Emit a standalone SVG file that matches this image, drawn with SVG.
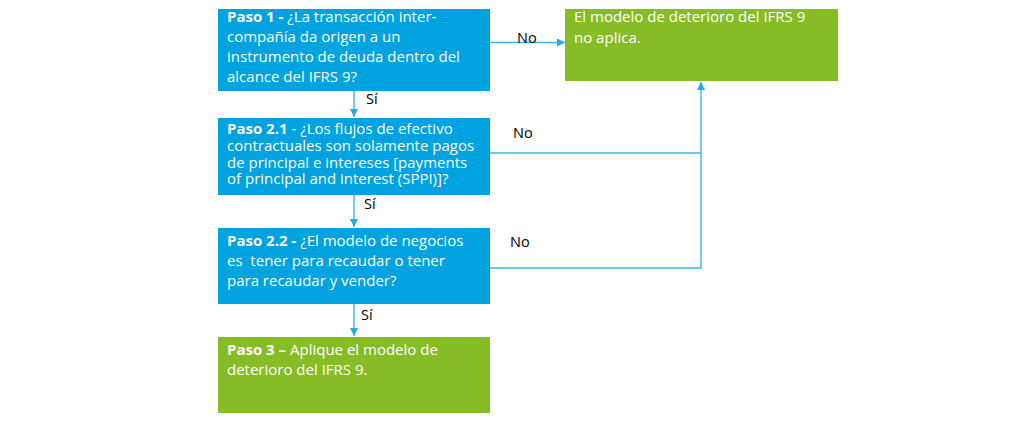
<svg xmlns="http://www.w3.org/2000/svg" width="1024" height="428" viewBox="0 0 1024 428">
<defs>
<style>
.blue{fill:#00A3E0}
.green{fill:#86BC25}
.t{font-family:"Open Sans","Liberation Sans",sans-serif;font-size:15px;fill:#ffffff}
.b{font-weight:bold}
.lbl{font-family:"Open Sans","Liberation Sans",sans-serif;font-size:14.5px;fill:#000000}
.c{stroke:#3DB5E6;stroke-width:1.4;fill:none}
</style>
<marker id="ah" viewBox="0 0 10 10" refX="10" refY="5" markerWidth="11" markerHeight="8" markerUnits="userSpaceOnUse" orient="auto">
<path d="M0,0 L10,5 L0,10 z" fill="#29A9E1"/>
</marker>
</defs>
<rect width="1024" height="428" fill="#ffffff"/>
<g id="connectors">
<line class="c" x1="490" y1="42.5" x2="565" y2="42.5" marker-end="url(#ah)"/>
<line class="c" x1="354" y1="91" x2="354" y2="117" marker-end="url(#ah)"/>
<line class="c" x1="354" y1="195" x2="354" y2="227" marker-end="url(#ah)"/>
<line class="c" x1="354" y1="304" x2="354" y2="336" marker-end="url(#ah)"/>
<polyline class="c" points="490,153 701,153"/>
<polyline class="c" points="490,268 701,268 701,82" marker-end="url(#ah)"/>
<text class="lbl" x="517" y="43">No</text>
<text class="lbl" x="513" y="138">No</text>
<text class="lbl" x="510" y="247">No</text>
<text class="lbl" x="366" y="104">Sí</text>
<text class="lbl" x="364" y="209">Sí</text>
<text class="lbl" x="361" y="320">Sí</text>
</g>
<g id="paso1">
<rect class="blue" x="218" y="9" width="272" height="82"/>
<text class="t" x="227" y="22"><tspan class="b">Paso 1 - </tspan>¿La transacción inter-</text>
<text class="t" x="227" y="42">compañía da origen a un</text>
<text class="t" x="227" y="62">instrumento de deuda dentro del</text>
<text class="t" x="227" y="82">alcance del IFRS 9?</text>
</g>
<g id="noaplica">
<rect class="green" x="565" y="9" width="273" height="72"/>
<text class="t" x="574" y="22">El modelo de deterioro del IFRS 9</text>
<text class="t" x="574" y="43">no aplica.</text>
</g>
<g id="paso21">
<rect class="blue" x="218" y="118" width="272" height="77"/>
<text class="t" x="227" y="134"><tspan class="b">Paso 2.1</tspan> - ¿Los flujos de efectivo</text>
<text class="t" x="227" y="151">contractuales son solamente pagos</text>
<text class="t" x="227" y="167.5">de principal e intereses [payments</text>
<text class="t" x="227" y="184">of principal and interest (SPPI)]?</text>
</g>
<g id="paso22">
<rect class="blue" x="218" y="228" width="272" height="76"/>
<text class="t" x="227" y="246"><tspan class="b">Paso 2.2 - </tspan>¿El modelo de negocios</text>
<text class="t" x="227" y="266" xml:space="preserve">es  tener para recaudar o tener</text>
<text class="t" x="227" y="286">para recaudar y vender?</text>
</g>
<g id="paso3">
<rect class="green" x="218" y="337" width="272" height="76"/>
<text class="t" x="227" y="355"><tspan class="b">Paso 3 – </tspan>Aplique el modelo de</text>
<text class="t" x="227" y="375">deterioro del IFRS 9.</text>
</g>
</svg>
